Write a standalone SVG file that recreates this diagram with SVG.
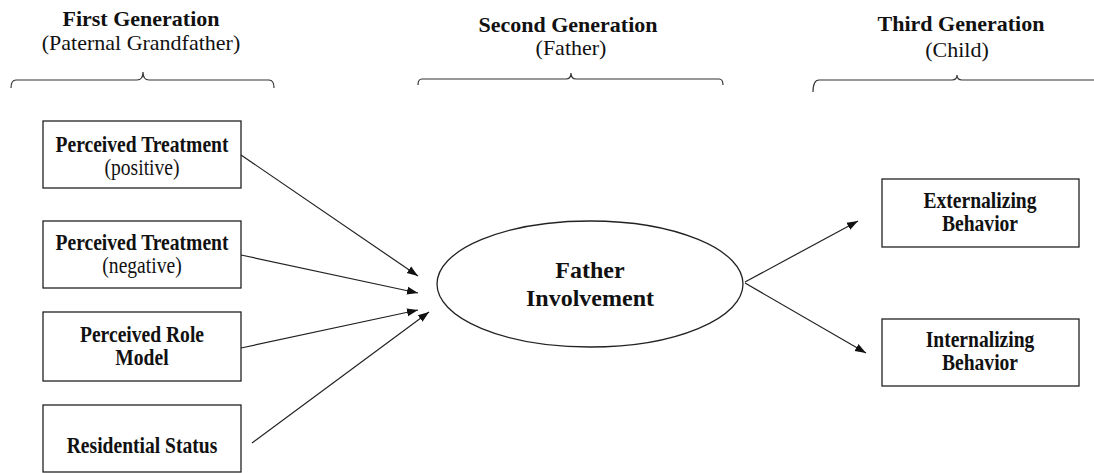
<svg xmlns="http://www.w3.org/2000/svg" width="1094" height="473" viewBox="0 0 1094 473">
<style>
.bg{fill:#fff}
.box{fill:#fff;stroke:#222;stroke-width:1.3}
.t{font-family:"Liberation Serif","Times New Roman",serif;fill:#111;text-anchor:middle}
.b{font-weight:bold}
.h{font-size:22px}
.n{font-size:22.5px}
.e{font-size:24px}
.br{fill:none;stroke:#333;stroke-width:1.2}
.c{stroke:#222;stroke-width:1.2;fill:none}
</style>
<defs>
<marker id="ah" markerUnits="userSpaceOnUse" markerWidth="12" markerHeight="10" viewBox="0 0 12 10" refX="11" refY="5" orient="auto">
<path d="M0,1 L11,5 L0,9 Z" fill="#111"/>
</marker>
</defs>
<rect class="bg" x="0" y="0" width="1094" height="473"/>
<g id="headings">
<text class="t b h" x="141" y="26">First Generation</text>
<text class="t h" x="141" y="50">(Paternal Grandfather)</text>
<path class="br" d="M11,88 Q11,80 16,80 L137,80 Q143,80 143,72 Q143,80 149,80 L269,80 Q274,80 274,88"/>
<text class="t b h" x="568" y="32">Second Generation</text>
<text class="t h" x="571" y="55">(Father)</text>
<path class="br" d="M418,85 Q418,79 422,79 L566,79 Q571,79 571,73 Q571,79 576,79 L719,79 Q723,79 723,85"/>
<text class="t b h" x="961" y="31">Third Generation</text>
<text class="t h" x="957" y="57">(Child)</text>
<path class="br" d="M813,92 Q813,80 819,80 L952,80 Q957,80 957,75 Q957,80 962,80 L1094,80"/>
</g>
<g id="node-pt-pos">
<rect class="box" x="43" y="121" width="198" height="67"/>
<text class="t b n" transform="matrix(0.87 0 0 1 142 152)">Perceived Treatment</text>
<text class="t n" transform="matrix(0.87 0 0 1 142 175)">(positive)</text>
</g>
<g id="node-pt-neg">
<rect class="box" x="43" y="221" width="198" height="67"/>
<text class="t b n" transform="matrix(0.87 0 0 1 142 250)">Perceived Treatment</text>
<text class="t n" transform="matrix(0.87 0 0 1 142 273)">(negative)</text>
</g>
<g id="node-role">
<rect class="box" x="43" y="312" width="198" height="69"/>
<text class="t b n" transform="matrix(0.87 0 0 1 142 342)">Perceived Role</text>
<text class="t b n" transform="matrix(0.87 0 0 1 142 365)">Model</text>
</g>
<g id="node-res">
<rect class="box" x="43" y="405" width="198" height="67"/>
<text class="t b n" transform="matrix(0.87 0 0 1 142 453)">Residential Status</text>
</g>
<g id="node-fi">
<ellipse class="box" cx="590" cy="284" rx="153" ry="63"/>
<text class="t b e" x="590" y="278">Father</text>
<text class="t b e" x="590" y="306">Involvement</text>
</g>
<g id="node-ext">
<rect class="box" x="882" y="179" width="197" height="68"/>
<text class="t b n" transform="matrix(0.87 0 0 1 980 208)">Externalizing</text>
<text class="t b n" transform="matrix(0.87 0 0 1 980 231)">Behavior</text>
</g>
<g id="node-int">
<rect class="box" x="882" y="319" width="197" height="67"/>
<text class="t b n" transform="matrix(0.87 0 0 1 980 347)">Internalizing</text>
<text class="t b n" transform="matrix(0.87 0 0 1 980 370)">Behavior</text>
</g>
<g id="connectors">
<line class="c" x1="241" y1="155" x2="418" y2="276" marker-end="url(#ah)"/>
<line class="c" x1="241" y1="255" x2="418" y2="293" marker-end="url(#ah)"/>
<line class="c" x1="241" y1="348" x2="418" y2="310" marker-end="url(#ah)"/>
<line class="c" x1="252" y1="443" x2="429" y2="312" marker-end="url(#ah)"/>
<line class="c" x1="745" y1="282" x2="858" y2="221" marker-end="url(#ah)"/>
<line class="c" x1="745" y1="283" x2="866" y2="353" marker-end="url(#ah)"/>
</g>
</svg>
